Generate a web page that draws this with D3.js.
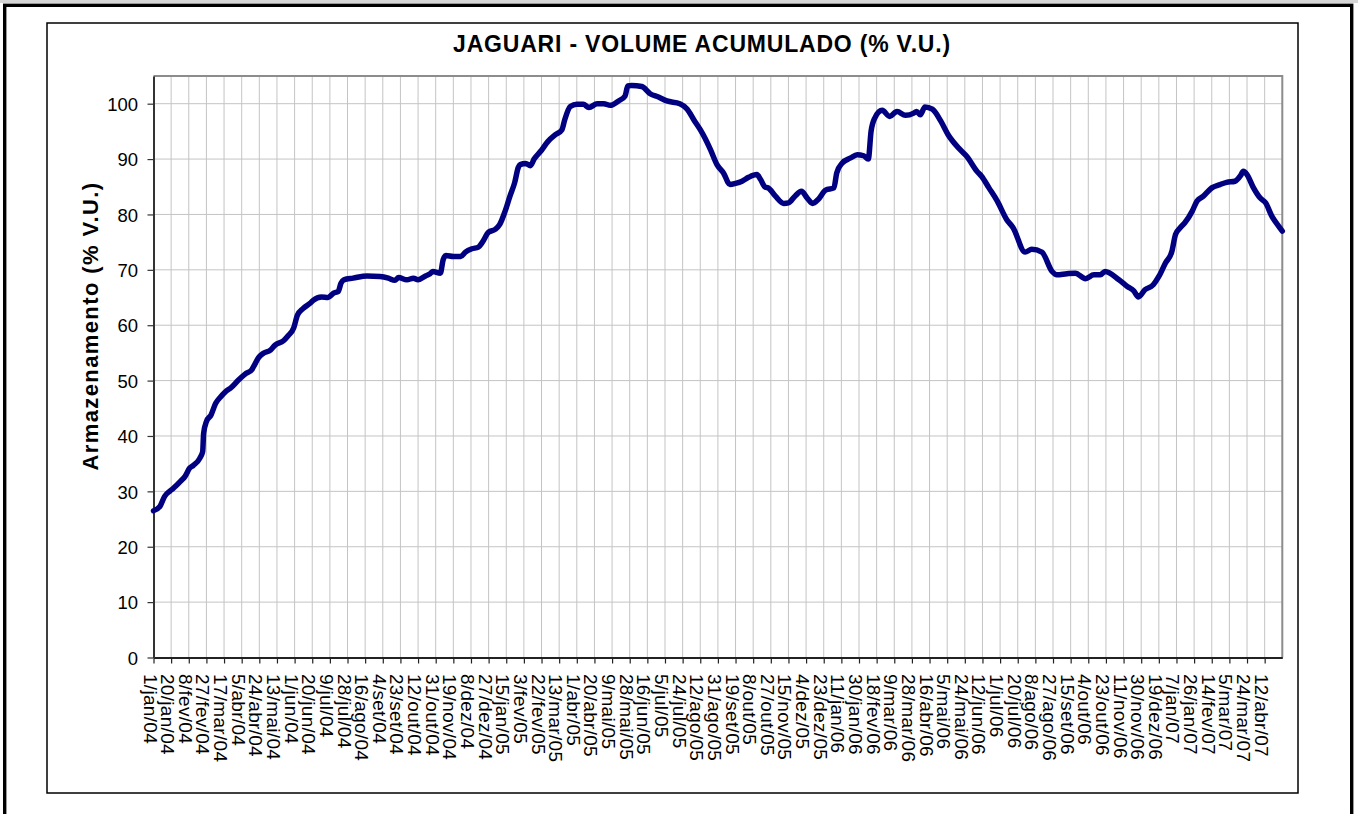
<!DOCTYPE html>
<html>
<head>
<meta charset="utf-8">
<script src="https://cdn.jsdelivr.net/npm/d3@7"></script>
<style>
  body { margin: 0; background: #fff; }
  svg text { font-family: Arial, 'Liberation Sans', sans-serif; fill: #000; }
</style>
</head>
<body>
<div id="chart"></div>
<script>
// rótulos do eixo x (um a cada 19 dias, a partir de 1/jan/04)
const tickLabels = ['1/jan/04', '20/jan/04', '8/fev/04', '27/fev/04', '17/mar/04', '5/abr/04', '24/abr/04', '13/mai/04',
  '1/jun/04', '20/jun/04', '9/jul/04', '28/jul/04', '16/ago/04', '4/set/04', '23/set/04', '12/out/04', '31/out/04',
  '19/nov/04', '8/dez/04', '27/dez/04', '15/jan/05', '3/fev/05', '22/fev/05', '13/mar/05', '1/abr/05', '20/abr/05',
  '9/mai/05', '28/mai/05', '16/jun/05', '5/jul/05', '24/jul/05', '12/ago/05', '31/ago/05', '19/set/05', '8/out/05',
  '27/out/05', '15/nov/05', '4/dez/05', '23/dez/05', '11/jan/06', '30/jan/06', '18/fev/06', '9/mar/06', '28/mar/06',
  '16/abr/06', '5/mai/06', '24/mai/06', '12/jun/06', '1/jul/06', '20/jul/06', '8/ago/06', '27/ago/06', '15/set/06',
  '4/out/06', '23/out/06', '11/nov/06', '30/nov/06', '19/dez/06', '7/jan/07', '26/jan/07', '14/fev/07', '5/mar/07',
  '24/mar/07', '12/abr/07'];
const tickStep = 19;      // dias entre rótulos
const lastDay = 1216;     // 1/mai/07

const yTicks = [0, 10, 20, 30, 40, 50, 60, 70, 80, 90, 100];

// dia (contado desde 1/jan/04) e volume acumulado (% V.U.)
const days = [0, 7, 12, 18, 21, 29, 34, 39, 43, 50, 53, 54, 57, 62, 67, 72, 77, 84, 91, 99,
  106, 109, 113, 118, 126, 131, 140, 145, 151, 155, 161, 169, 172, 181, 188, 194, 199, 202, 205, 215,
  230, 244, 253, 260, 264, 273, 280, 285, 293, 298, 301, 309, 312, 315, 323, 331, 336, 343, 350, 354,
  361, 368, 373, 379, 384, 389, 393, 395, 401, 406, 410, 418, 425, 433, 440, 443, 449, 456, 463, 469,
  478, 485, 492, 501, 508, 511, 515, 526, 535, 544, 553, 567, 575, 582, 589, 594, 600, 607, 614, 621,
  627, 634, 641, 650, 654, 659, 662, 670, 679, 684, 691, 698, 704, 710, 716, 724, 733, 736, 742, 751,
  758, 765, 770, 773, 777, 785, 793, 801, 810, 819, 822, 826, 831, 839, 848, 856, 869, 876, 887, 892,
  900, 909, 919, 926, 939, 946, 957, 968, 973, 984, 993, 1004, 1013, 1020, 1025, 1040, 1049, 1056, 1061, 1068,
  1077, 1083, 1090, 1097, 1101, 1106, 1111, 1119, 1124, 1131, 1140, 1149, 1156, 1165, 1171, 1174, 1178, 1185, 1192, 1198,
  1205, 1212, 1216];
const volume = [26.5, 27.3, 29.1, 30.1, 30.5, 31.8, 32.7, 34.2, 34.7, 36.0, 37.2, 40.5, 42.6, 43.8, 45.9, 47.0, 47.9, 48.8, 50.0, 51.2,
  52.0, 52.9, 54.1, 54.9, 55.5, 56.4, 57.2, 58.1, 59.5, 61.8, 63.0, 64.0, 64.5, 65.1, 65.0, 65.8, 66.1, 67.6, 68.2, 68.5,
  68.9, 68.8, 68.5, 68.1, 68.6, 68.2, 68.5, 68.2, 68.9, 69.3, 69.7, 69.4, 71.8, 72.6, 72.4, 72.4, 73.2, 73.8, 74.1, 74.9,
  76.8, 77.3, 78.2, 80.7, 83.3, 85.7, 88.5, 89.0, 89.2, 88.8, 90.0, 91.6, 93.2, 94.4, 95.3, 97.1, 99.5, 99.9, 99.9, 99.3,
  100.0, 100.0, 99.7, 100.5, 101.4, 103.2, 103.3, 103.1, 101.8, 101.2, 100.5, 100.0, 99.0, 97.1, 95.3, 93.8, 91.7, 89.0, 87.5, 85.4,
  85.6, 86.0, 86.7, 87.2, 86.3, 84.9, 84.8, 83.3, 82.0, 82.1, 83.3, 84.2, 83.0, 82.0, 82.7, 84.4, 84.8, 87.5, 89.3, 90.2,
  90.8, 90.6, 90.0, 95.0, 97.4, 98.8, 97.7, 98.6, 97.9, 98.3, 98.6, 98.0, 99.4, 99.0, 96.9, 94.4, 91.7, 90.5, 87.8, 86.9,
  84.8, 82.4, 79.1, 77.6, 73.2, 73.7, 73.2, 69.7, 69.1, 69.3, 69.4, 68.4, 69.1, 69.1, 69.7, 68.2, 67.0, 66.2, 65.1, 66.4,
  67.3, 68.8, 71.2, 73.3, 76.4, 77.6, 78.5, 80.6, 82.4, 83.3, 84.8, 85.4, 85.8, 86.0, 87.0, 87.8, 87.2, 84.8, 83.0, 82.1,
  79.6, 77.9, 77.0];

const width = 1358;
const height = 814;
const plot = {left: 153.5, right: 1282.3, top: 76, bottom: 657.5};

const svg = d3.select('#chart')
  .append('svg')
    .attr('width', width)
    .attr('height', height);

// moldura externa
svg.append('rect')
  .attr('x', 0).attr('y', 0).attr('width', width).attr('height', 3)
  .attr('fill', '#d6d6d6');
svg.append('rect')
  .attr('x', 4.7).attr('y', 5.3).attr('width', 1347).attr('height', 830)
  .attr('fill', 'none').attr('stroke', '#000').attr('stroke-width', 3.4);

// caixa do gráfico
svg.append('rect')
  .attr('x', 47).attr('y', 23).attr('width', 1251).attr('height', 770)
  .attr('fill', '#fff').attr('stroke', '#000').attr('stroke-width', 1.5);

const x = d3.scaleLinear()
  .domain([0, lastDay])
  .range([plot.left, plot.right]);
const y = d3.scaleLinear()
  .domain([0, 105])
  .range([plot.bottom, plot.top]);

const tickDays = tickLabels.map((d, i) => i * tickStep);

// grade
const grid = svg.append('g')
  .attr('stroke', '#c4c4c4')
  .attr('stroke-width', 1);
grid.selectAll('.vgrid')
  .data(tickDays.slice(1))
  .join('line')
    .attr('class', 'vgrid')
    .attr('x1', d => x(d)).attr('x2', d => x(d))
    .attr('y1', plot.top).attr('y2', plot.bottom);
grid.selectAll('.hgrid')
  .data(yTicks.slice(1))
  .join('line')
    .attr('class', 'hgrid')
    .attr('x1', plot.left).attr('x2', plot.right)
    .attr('y1', d => y(d)).attr('y2', d => y(d));

// bordas superior e direita da área de plotagem
svg.append('path')
  .attr('d', `M${plot.left},${plot.top}H${plot.right}V${plot.bottom}`)
  .attr('fill', 'none')
  .attr('stroke', '#8c8c8c')
  .attr('stroke-width', 2);

// eixo x
const xAxis = svg.append('g')
  .attr('transform', `translate(0, ${plot.bottom})`)
  .call(d3.axisBottom(x)
    .tickValues(tickDays)
    .tickSize(6)
    .tickSizeOuter(0)
    .tickFormat((d, i) => tickLabels[i]));
xAxis.select('.domain').attr('stroke', '#222').attr('stroke-width', 2);
xAxis.selectAll('.tick line').attr('stroke', '#222').attr('stroke-width', 1.2);
xAxis.selectAll('.tick text')
  .attr('transform', 'rotate(90)')
  .attr('x', 16.5)
  .attr('y', 10.5)
  .attr('dy', 0)
  .attr('text-anchor', 'start')
  .style('font-size', '19px')
  .style('letter-spacing', '0.3px');

// eixo y
const yAxis = svg.append('g')
  .attr('transform', `translate(${plot.left}, 0)`)
  .call(d3.axisLeft(y)
    .tickValues(yTicks)
    .tickSize(6)
    .tickSizeOuter(0)
    .tickPadding(9.5));
yAxis.select('.domain').attr('stroke', '#333').attr('stroke-width', 2);
yAxis.selectAll('.tick line').attr('stroke', '#333').attr('stroke-width', 1.2);
yAxis.selectAll('.tick text')
  .attr('dy', '0.36em')
  .style('font-size', '18.5px');

// série
const line = d3.line()
  .x((d, i) => x(days[i]))
  .y(d => y(d))
  .curve(d3.curveMonotoneX);
svg.append('path')
  .datum(volume)
  .attr('d', line)
  .attr('fill', 'none')
  .attr('stroke', '#000080')
  .attr('stroke-width', 5.5)
  .attr('stroke-linejoin', 'round')
  .attr('stroke-linecap', 'round');

// título
svg.append('text')
  .attr('x', 702)
  .attr('y', 52)
  .attr('text-anchor', 'middle')
  .style('font-size', '23px')
  .style('font-weight', 'bold')
  .style('letter-spacing', '0.8px')
  .text('JAGUARI - VOLUME ACUMULADO (% V.U.)');

// rótulo do eixo y
svg.append('text')
  .attr('transform', 'translate(98, 326) rotate(-90)')
  .attr('text-anchor', 'middle')
  .style('font-size', '22px')
  .style('font-weight', 'bold')
  .style('letter-spacing', '1.4px')
  .text('Armazenamento (% V.U.)');
</script>
</body>
</html>
